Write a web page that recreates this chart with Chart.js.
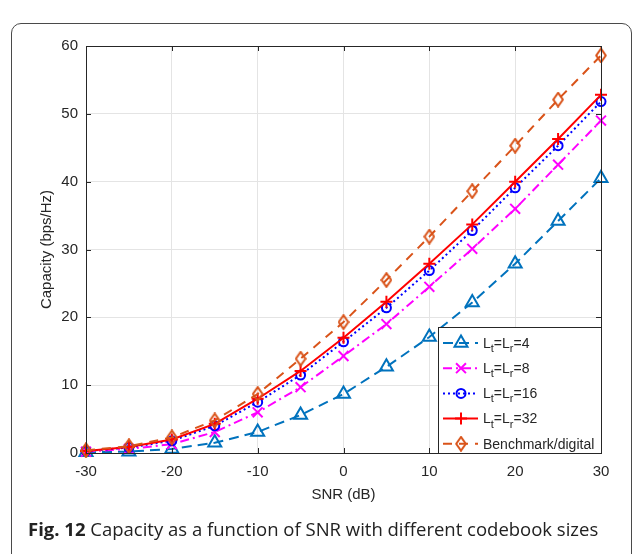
<!DOCTYPE html>
<html>
<head>
<meta charset="utf-8">
<script src="https://cdn.jsdelivr.net/npm/chart.js@4.4.1/dist/chart.umd.min.js"></script>
<style>
  html, body { margin: 0; padding: 0; background: #fff; }
  body { width: 636px; height: 554px; position: relative; overflow: hidden; }
  #frame {
    position: absolute; left: 11px; top: 23px; width: 621px; height: 580px;
    border: 1.5px solid #4a4a4a; border-radius: 10px; box-sizing: border-box;
  }
  #wrap { position: absolute; left: 0; top: 0; width: 636px; height: 554px; }
  #caption {
    position: absolute; left: 28px; top: 516px; white-space: nowrap;
    font-family: 'Open Sans', sans-serif; font-size: 18.5px; color: #222;
  }
  #caption b { font-weight: 700; }
</style>
</head>
<body>
<div id="frame"></div>
<div id="wrap"><canvas id="cap" width="636" height="554"></canvas></div>
<div id="caption"><b>Fig. 12</b> Capacity as a function of SNR with different codebook sizes</div>
<script>
const snr = [-30, -25, -20, -15, -10, -5, 0, 5, 10, 15, 20, 25, 30];
const cap4 = [0.1, 0.2, 0.6, 1.5, 3.1, 5.6, 8.7, 12.7, 17.1, 22.2, 27.9, 34.2, 40.5];
const cap8 = [0.2, 0.6, 1.3, 3.1, 6.0, 9.7, 14.3, 19.0, 24.5, 30.1, 36.0, 42.5, 49.0];
const cap16 = [0.3, 0.8, 1.8, 4.0, 7.5, 11.5, 16.4, 21.4, 26.9, 32.8, 39.1, 45.3, 51.8];
const cap32 = [0.3, 0.9, 2.0, 4.3, 8.0, 12.1, 17.0, 22.3, 27.9, 33.7, 40.0, 46.3, 52.8];
const bench = [0.4, 1.0, 2.3, 4.8, 8.7, 13.9, 19.3, 25.5, 31.9, 38.6, 45.3, 52.1, 58.6];

const seriesLabels = ['L_t=L_r=4', 'L_t=L_r=8', 'L_t=L_r=16', 'L_t=L_r=32', 'Benchmark/digital'];
const xTicks = [-30, -20, -10, 0, 10, 20, 30];
const yTicks = [0, 10, 20, 30, 40, 50, 60];

const axisColor = '#262626';
const fontFamily = "'Liberation Sans', Arial, sans-serif";

// tall hollow diamond marker
function diamondMarker(color) {
  const c = document.createElement('canvas');
  c.width = 12; c.height = 16;
  const g = c.getContext('2d');
  g.strokeStyle = color;
  g.lineWidth = 2;
  g.beginPath();
  g.moveTo(6, 1.2); g.lineTo(10.8, 8); g.lineTo(6, 14.8); g.lineTo(1.2, 8);
  g.closePath();
  g.stroke();
  return c;
}

const styles = [
  { color: '#0072BD', dash: [10, 6], point: 'triangle', r: 7.5 },
  { color: '#FF00FF', dash: [9, 4, 2, 4], point: 'crossRot', r: 7 },
  { color: '#0000FF', dash: [2, 3], point: 'circle', r: 4.5 },
  { color: '#FF0000', dash: [], point: 'cross', r: 6 },
  { color: '#D95319', dash: [9, 7], point: diamondMarker('#D95319'), r: 7 }
];

const series = [cap4, cap8, cap16, cap32, bench];

const datasets = series.map((vals, i) => ({
  label: seriesLabels[i],
  data: snr.map((x, k) => ({ x: x, y: vals[k] })),
  borderColor: styles[i].color,
  borderWidth: 2,
  borderDash: styles[i].dash,
  pointStyle: styles[i].point,
  pointRadius: styles[i].r,
  pointBorderWidth: 2,
  pointBorderColor: styles[i].color,
  pointBackgroundColor: 'rgba(0,0,0,0)',
  tension: 0,
  clip: false,
  order: series.length - 1 - i
}));

// box + inward ticks, like the usual plotting-tool axes
const boxAxes = {
  id: 'boxAxes',
  afterDatasetsDraw(chart) {
    const { ctx, chartArea: a, scales } = chart;
    const len = 5;
    ctx.save();
    ctx.strokeStyle = axisColor;
    ctx.lineWidth = 1;
    ctx.beginPath();
    xTicks.forEach(v => {
      const x = Math.round(scales.x.getPixelForValue(v)) + 0.5;
      ctx.moveTo(x, a.bottom); ctx.lineTo(x, a.bottom - len);
      ctx.moveTo(x, a.top); ctx.lineTo(x, a.top + len);
    });
    yTicks.forEach(v => {
      const y = Math.round(scales.y.getPixelForValue(v)) + 0.5;
      ctx.moveTo(a.left, y); ctx.lineTo(a.left + len, y);
      ctx.moveTo(a.right, y); ctx.lineTo(a.right - len, y);
    });
    ctx.stroke();
    ctx.strokeRect(Math.round(a.left) + 0.5, Math.round(a.top) + 0.5,
      Math.round(a.right - a.left), Math.round(a.bottom - a.top));
    ctx.restore();
  }
};

// text with "_x" drawn as a subscript
function drawSubText(ctx, text, x, y) {
  const parts = text.split(/(_.)/);
  parts.forEach(p => {
    if (!p) return;
    if (p[0] === '_') {
      ctx.font = '11px ' + fontFamily;
      ctx.fillText(p[1], x, y + 5);
      x += ctx.measureText(p[1]).width;
    } else {
      ctx.font = '14px ' + fontFamily;
      ctx.fillText(p, x, y);
      x += ctx.measureText(p).width;
    }
  });
}

const boxLegend = {
  id: 'boxLegend',
  afterDraw(chart) {
    const { ctx, chartArea: a } = chart;
    const w = 163, h = 126;
    const left = Math.round(a.right) - w, top = Math.round(a.bottom) - h;
    ctx.save();
    ctx.fillStyle = '#fff';
    ctx.fillRect(left, top, w, h);
    ctx.strokeStyle = axisColor;
    ctx.lineWidth = 1;
    ctx.strokeRect(left + 0.5, top + 0.5, w, h);
    chart.data.datasets.forEach((ds, i) => {
      const y = top + 16 + i * 25.2;
      ctx.strokeStyle = ds.borderColor;
      ctx.lineWidth = 2;
      ctx.setLineDash(ds.borderDash);
      ctx.beginPath();
      ctx.moveTo(left + 5, y);
      ctx.lineTo(left + 40, y);
      ctx.stroke();
      ctx.setLineDash([]);
      ctx.fillStyle = 'rgba(0,0,0,0)';
      Chart.helpers.drawPoint(ctx, {
        pointStyle: ds.pointStyle, radius: ds.pointRadius, rotation: 0, borderWidth: 2
      }, left + 23, y);
      ctx.fillStyle = axisColor;
      ctx.textBaseline = 'middle';
      ctx.textAlign = 'left';
      drawSubText(ctx, ds.label, left + 45, y + 1);
    });
    ctx.restore();
  }
};

new Chart(document.getElementById('cap'), {
  type: 'line',
  data: { datasets: datasets },
  plugins: [boxAxes, boxLegend],
  options: {
    responsive: false,
    animation: false,
    layout: { padding: { left: 29, top: 46, right: 35, bottom: 41 } },
    plugins: { legend: { display: false }, tooltip: { enabled: false } },
    scales: {
      x: {
        type: 'linear', min: -30, max: 30,
        afterBuildTicks: s => { s.ticks = xTicks.map(v => ({ value: v })); },
        afterFit: s => { s.height = 60; },
        grid: { color: '#e4e4e4', lineWidth: 1, drawTicks: false },
        border: { display: false },
        ticks: { padding: 10, color: axisColor, font: { family: fontFamily, size: 15 } },
        title: {
          display: true, text: 'SNR (dB)', color: axisColor,
          font: { family: fontFamily, size: 15 }, padding: { top: 0, bottom: 9 }
        }
      },
      y: {
        type: 'linear', min: 0, max: 60,
        afterBuildTicks: s => { s.ticks = yTicks.map(v => ({ value: v })); },
        afterFit: s => { s.width = 57; },
        grid: { color: '#e4e4e4', lineWidth: 1, drawTicks: false },
        border: { display: false },
        ticks: { padding: 8, color: axisColor, font: { family: fontFamily, size: 15 } },
        title: {
          display: true, text: 'Capacity (bps/Hz)', color: axisColor,
          font: { family: fontFamily, size: 15 }, padding: { top: 9, bottom: 0 }
        }
      }
    }
  }
});
</script>
</body>
</html>
